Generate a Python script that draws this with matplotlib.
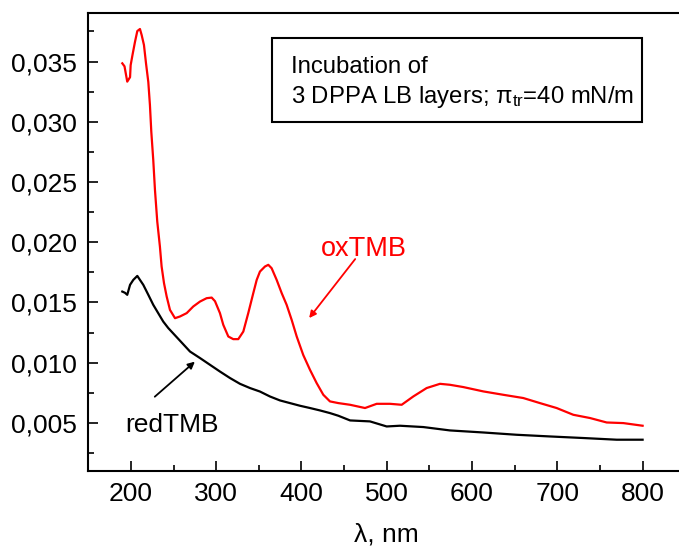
import matplotlib
matplotlib.use("Agg")
import matplotlib.pyplot as plt
from matplotlib.patches import Rectangle
from matplotlib.ticker import FuncFormatter, MultipleLocator

plt.rcParams["font.family"] = ["Liberation Sans", "DejaVu Sans"]
plt.rcParams["mathtext.fontset"] = "custom"
plt.rcParams["mathtext.rm"] = "Liberation Sans"
plt.rcParams["mathtext.it"] = "Liberation Sans:italic"

# oxTMB (red)
ox_wl = [189.9, 192.5, 195.7, 199.0, 199.7, 202.0, 204.8, 207.5, 210.6, 212.6,
         215.3, 217.7, 220.4, 222.3, 223.9, 226.2, 228.2, 230.9, 234.0, 236.0,
         238.8, 241.9, 245.8, 251.7, 257.5, 265.4, 273.1, 281.0, 288.8, 294.7,
         298.6, 304.4, 308.3, 314.2, 320.0, 325.9, 331.8, 337.6, 343.5, 347.5,
         351.3, 357.2, 361.1, 365.0, 370.9, 376.8, 382.6, 388.5, 394.4, 402.1,
         410.0, 417.8, 425.6, 433.4, 443.2, 457.0, 474.5, 488.2, 503.8, 517.5,
         531.1, 546.8, 562.4, 574.1, 589.8, 613.2, 636.6, 660.1, 679.6, 699.2,
         718.7, 738.3, 757.9, 777.4, 800.0]
ox_abs = [0.03485, 0.0346, 0.03333, 0.0337, 0.0347, 0.0356, 0.03664, 0.03753, 0.0377, 0.0372,
          0.03637, 0.03485, 0.0333, 0.03139, 0.02918, 0.02683, 0.02434, 0.02171, 0.01964, 0.01798,
          0.0166, 0.0155, 0.01438, 0.01369, 0.01383, 0.01411, 0.01466, 0.01507, 0.01535, 0.0154,
          0.0151, 0.01411, 0.01314, 0.01217, 0.01195, 0.01195, 0.01258, 0.01411, 0.01577, 0.01687,
          0.01756, 0.01798, 0.01812, 0.01784, 0.01687, 0.01577, 0.0148, 0.01355, 0.01217, 0.01063,
          0.0094, 0.0083, 0.00733, 0.00678, 0.00664, 0.0065, 0.00623, 0.00658, 0.00658, 0.0065,
          0.00719, 0.00789, 0.00824, 0.00816, 0.00797, 0.00761, 0.00733, 0.00706, 0.00664, 0.00623,
          0.00567, 0.0054, 0.00503, 0.00498, 0.00476]

# redTMB (black)
red_wl = [189.9, 193.0, 195.7, 199.0, 202.8, 207.5, 210.6, 214.5, 220.4, 226.2,
          232.0, 237.9, 243.8, 269.3, 281.0, 292.7, 304.4, 316.2, 327.9, 339.6,
          351.3, 363.0, 374.8, 386.5, 398.2, 410.0, 421.7, 433.4, 443.2, 457.0,
          480.3, 499.9, 515.5, 542.9, 574.1, 613.2, 652.3, 691.4, 730.4, 769.6, 800.0]
red_abs = [0.0159, 0.0158, 0.01563, 0.01646, 0.01687, 0.0172, 0.01687, 0.01646, 0.01563, 0.0148,
           0.01411, 0.01341, 0.01287, 0.01092, 0.01038, 0.00982, 0.00926, 0.00872, 0.00824, 0.00789,
           0.0076, 0.00719, 0.00686, 0.00664, 0.00642, 0.00623, 0.00603, 0.00581, 0.00559, 0.0052,
           0.00512, 0.0047, 0.00476, 0.00465, 0.00437, 0.0042, 0.00401, 0.00387, 0.00374, 0.0036, 0.0036]

fig = plt.figure(figsize=(6.79, 5.47), dpi=100)
ax = fig.add_axes([0.130, 0.1389, 0.8792, 0.8367])

ax.plot(ox_wl, ox_abs, color="#ff0000", lw=1.6)
ax.plot(red_wl, red_abs, color="black", lw=1.6)

ax.set_xlim(150, 850)
ax.set_ylim(0.001, 0.039)
ax.xaxis.set_major_locator(MultipleLocator(100))
ax.xaxis.set_minor_locator(MultipleLocator(50))
ax.yaxis.set_major_locator(MultipleLocator(0.005))
ax.yaxis.set_minor_locator(MultipleLocator(0.0025))
ax.yaxis.set_major_formatter(FuncFormatter(lambda v, p: f"{v:.3f}".replace(".", ",")))
ax.set_xticks([t for t in range(200, 801, 100)])
ax.tick_params(which="major", direction="in", length=7, width=1.2, labelsize=19, pad=8)
ax.tick_params(which="minor", direction="in", length=4, width=1.2)
ax.tick_params(top=False, right=False, which="both")
for s in ax.spines.values():
    s.set_linewidth(1.5)

ax.set_xlabel("λ, nm", fontsize=19, labelpad=12)

# legend-like box
ax.add_patch(Rectangle((0.3072, 0.7625), 0.6198, 0.1829, transform=ax.transAxes,
                       fill=False, edgecolor="black", lw=1.5))
ax.text(0.3390, 0.8827, "Incubation of", transform=ax.transAxes,
        fontsize=17.2, va="center", ha="left")
ax.text(0.3390, 0.8172, r"3 DPPA LB layers; $\mathrm{\pi}_{\rm tr}$=40 mN/m", transform=ax.transAxes,
        fontsize=17.2, va="center", ha="left")

ax.text(473, 0.0194, "oxTMB", color="#ff0000", fontsize=19.5, ha="center", va="center")
ax.annotate("", xy=(409, 0.0137), xytext=(463, 0.0186),
            arrowprops=dict(arrowstyle="-|>", color="#ff0000", lw=1.3,
                            shrinkA=0, shrinkB=0, mutation_scale=10))
ax.text(248, 0.00484, "redTMB", color="black", fontsize=19, ha="center", va="center")
ax.annotate("", xy=(275, 0.01008), xytext=(228, 0.00717),
            arrowprops=dict(arrowstyle="-|>", color="black", lw=1.3,
                            shrinkA=0, shrinkB=0, mutation_scale=10))

fig.savefig("out.png", dpi=100)
